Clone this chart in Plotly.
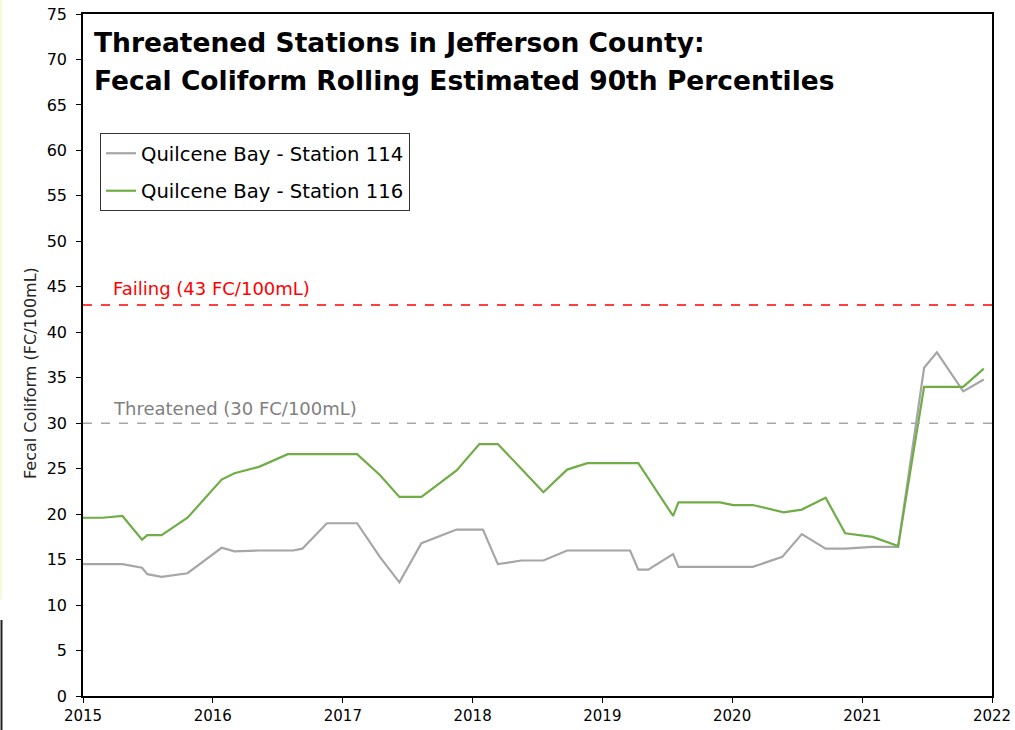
import plotly.graph_objects as go

# ---- data ----
dates_114 = ["2015-01-01", "2015-04-22", "2015-06-16", "2015-07-01", "2015-08-10", "2015-10-22",
             "2016-01-26", "2016-03-02", "2016-05-10", "2016-08-14", "2016-09-09", "2016-11-17",
             "2017-02-10", "2017-04-15", "2017-06-09", "2017-08-10", "2017-11-17",
             "2018-01-30", "2018-03-13", "2018-05-18", "2018-07-19", "2018-09-24",
             "2019-03-20", "2019-04-12", "2019-05-10", "2019-07-19", "2019-08-03", "2019-10-04",
             "2020-02-28", "2020-05-21", "2020-07-15", "2020-09-20", "2020-11-14",
             "2021-01-30", "2021-04-12", "2021-06-24", "2021-07-30", "2021-10-12", "2021-12-09"]
values_114 = [14.5, 14.5, 14.1, 13.4, 13.1, 13.5,
              16.3, 15.9, 16.0, 16.0, 16.2, 19.0,
              19.0, 15.3, 12.5, 16.8, 18.3,
              18.3, 14.5, 14.9, 14.9, 16.0,
              16.0, 13.9, 13.9, 15.6, 14.2, 14.2,
              14.2, 15.3, 17.8, 16.2, 16.2,
              16.4, 16.4, 36.1, 37.8, 33.5, 34.8]

dates_116 = ["2015-01-01", "2015-02-25", "2015-04-22", "2015-06-16", "2015-07-01", "2015-08-10", "2015-10-22",
             "2016-01-26", "2016-03-02", "2016-05-10", "2016-07-30",
             "2017-02-10", "2017-04-15", "2017-06-09", "2017-08-10", "2017-11-17",
             "2018-01-20", "2018-03-13", "2018-05-18", "2018-07-19", "2018-09-24", "2018-11-20",
             "2019-04-12", "2019-07-19", "2019-08-03", "2019-10-04", "2019-11-28",
             "2020-01-04", "2020-02-28", "2020-05-25", "2020-07-15", "2020-09-20", "2020-11-14",
             "2021-01-30", "2021-04-12", "2021-06-24", "2021-10-12", "2021-12-09"]
values_116 = [19.6, 19.6, 19.8, 17.2, 17.7, 17.7, 19.6,
              23.8, 24.5, 25.2, 26.6,
              26.6, 24.3, 21.9, 21.9, 24.8,
              27.7, 27.7, 25.0, 22.4, 24.9, 25.6,
              25.6, 19.8, 21.3, 21.3, 21.3,
              21.0, 21.0, 20.2, 20.5, 21.8, 17.9,
              17.5, 16.5, 34.0, 34.0, 36.0]

name_114 = "Quilcene Bay - Station 114"
name_116 = "Quilcene Bay - Station 116"
failing_level = 43
threatened_level = 30
failing_label = "Failing (43 FC/100mL)"
threatened_label = "Threatened (30 FC/100mL)"
title_lines = ["Threatened Stations in Jefferson County:", "Fecal Coliform Rolling Estimated 90th Percentiles"]
y_title = "Fecal Coliform (FC/100mL)"
year_ticks = ["2015-01-01", "2016-01-01", "2017-01-01", "2018-01-01", "2019-01-01",
              "2020-01-01", "2021-01-01", "2022-01-01"]
year_labels = ["2015", "2016", "2017", "2018", "2019", "2020", "2021", "2022"]

GRAY = "#A6A6A6"
GREEN = "#70AD47"
FONT = "DejaVu Sans"

fig = go.Figure()
fig.add_trace(go.Scatter(x=dates_114, y=values_114, mode="lines", name=name_114,
                         line=dict(color=GRAY, width=2.2), legendgroup="a"))
fig.add_trace(go.Scatter(x=dates_116, y=values_116, mode="lines", name=name_116,
                         line=dict(color=GREEN, width=2.2), legendgroup="b"))

W, H = 1015, 730
L, R, T, B = 83, 23, 14, 34
pw, ph = W - L - R, H - T - B

def px(xp):
    return (xp - L) / pw

def py(yp):
    return (H - B - yp) / ph

shapes = [
    dict(type="line", xref="paper", x0=0, x1=1, yref="y", y0=failing_level, y1=failing_level,
         line=dict(color="#FF0000", width=1.6, dash="dash")),
    dict(type="line", xref="paper", x0=0, x1=1, yref="y", y0=threatened_level, y1=threatened_level,
         line=dict(color=GRAY, width=1.6, dash="dash")),
    # left-edge artifacts of the reference image
    dict(type="rect", xref="paper", yref="paper", x0=px(0), x1=px(2), y0=py(600), y1=py(0),
         fillcolor="#F4FBDD", line=dict(width=0), layer="below"),
    dict(type="line", xref="paper", yref="paper", x0=px(1.5), x1=px(1.5), y0=py(730), y1=py(620),
         line=dict(color="#222222", width=2)),
]

annotations = [
    dict(xref="paper", yref="paper", x=px(92), y=py(43), xanchor="left", yanchor="middle",
         text="<b>" + title_lines[0] + "</b>", showarrow=False,
         font=dict(family=FONT, size=26.5, color="black")),
    dict(xref="paper", yref="paper", x=px(92), y=py(80), xanchor="left", yanchor="middle",
         text="<b>" + title_lines[1] + "</b>", showarrow=False,
         font=dict(family=FONT, size=26.5, color="black")),
    dict(xref="paper", yref="paper", x=px(111), y=py(288), xanchor="left", yanchor="middle",
         text=failing_label, showarrow=False,
         font=dict(family=FONT, size=18, color="#FF0000")),
    dict(xref="paper", yref="paper", x=px(111), y=py(409), xanchor="left", yanchor="middle",
         text=threatened_label, showarrow=False,
         font=dict(family=FONT, size=18, color="#808080")),
    dict(xref="paper", yref="paper", x=px(30), y=py(373), xanchor="center", yanchor="middle",
         text=y_title, textangle=-90, showarrow=False,
         font=dict(family=FONT, size=16, color="#262626")),
]

fig.update_layout(
    width=W, height=H,
    margin=dict(l=L, r=R, t=T, b=B, autoexpand=False),
    paper_bgcolor="white", plot_bgcolor="white",
    showlegend=True,
    legend=dict(x=px(100), y=py(133), xanchor="left", yanchor="top",
                bordercolor="#333333", borderwidth=1, bgcolor="white",
                font=dict(family=FONT, size=19.6, color="black"),
                traceorder="grouped", tracegroupgap=9, itemwidth=30),
    shapes=shapes,
    annotations=annotations,
    xaxis=dict(type="date", range=["2015-01-01", "2022-01-01"], tickmode="array",
               tickvals=year_ticks, ticktext=year_labels, showgrid=False, zeroline=False,
               showline=True, linecolor="black", linewidth=1.5, mirror=True,
               ticks="outside", ticklen=5, tickcolor="black", automargin=False,
               tickfont=dict(family=FONT, size=15, color="black")),
    yaxis=dict(range=[0, 75], dtick=5, tick0=0, showgrid=False, zeroline=False,
               showline=True, linecolor="black", linewidth=1.5, mirror=True,
               ticks="outside", ticklen=5, tickcolor="black", automargin=False,
               ticklabelstandoff=6,
               tickfont=dict(family=FONT, size=16, color="black")),
)

fig.write_html("out.html")
